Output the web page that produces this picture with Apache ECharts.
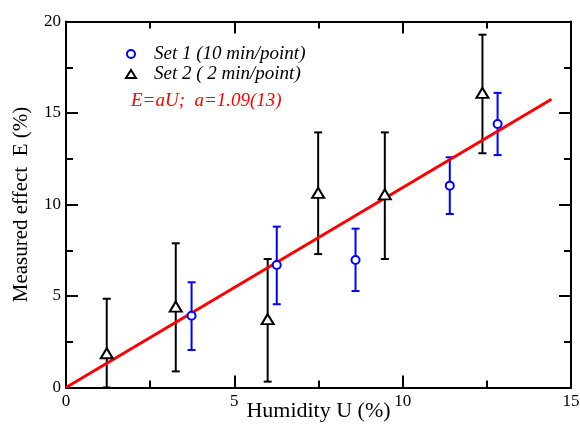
<!DOCTYPE html>
<html>
<head>
<meta charset="utf-8">
<script src="https://cdn.jsdelivr.net/npm/echarts@6/dist/echarts.min.js"></script>
<style>html,body{margin:0;padding:0;background:#fff;}#c{width:580px;height:429px;}</style>
</head>
<body>
<div id="c"></div>
<script>
// Set 1 (10 min/point)
const set1X  = [3.73, 6.26, 8.60, 11.40, 12.82];
const set1Y  = [3.92, 6.69, 6.97, 11.03, 14.40];
const set1Lo = [2.05, 4.55, 5.27, 9.48, 12.70];
const set1Hi = [5.75, 8.79, 8.68, 12.58, 16.10];
// Set 2 ( 2 min/point)
const set2X  = [1.21, 3.26, 5.99, 7.49, 9.47, 12.37];
const set2Y  = [1.87, 4.42, 3.74, 10.64, 10.55, 16.10];
const set2Lo = [0.00, 0.88, 0.32, 7.29, 7.02, 12.80];
const set2Hi = [4.85, 7.88, 7.02, 13.94, 13.94, 19.28];
// Fit line E = aU
const fitX = [0, 14.42];
const fitY = [0, 15.75];
const xTicks = [0, 5, 10, 15];
const yTicks = [0, 5, 10, 15, 20];
const legendNames = ['Set 1 (10 min/point)', 'Set 2 ( 2 min/point)'];
const fitLabel = 'E=aU;  a=1.09(13)';

const serif = '"Liberation Serif", "DejaVu Serif", serif';

function errData(xs, lo, hi) { return xs.map((x, i) => [x, lo[i], hi[i]]); }
function pts(xs, ys) { return xs.map((x, i) => [x, ys[i]]); }

function errRender(color) {
  return function (params, api) {
    const x = api.value(0);
    const lo = api.coord([x, api.value(1)]);
    const hi = api.coord([x, api.value(2)]);
    const w = 4;
    const style = { stroke: color, lineWidth: 2, fill: null };
    return {
      type: 'group',
      children: [
        { type: 'line', shape: { x1: lo[0], y1: lo[1], x2: hi[0], y2: hi[1] }, style },
        { type: 'line', shape: { x1: hi[0] - w, y1: hi[1], x2: hi[0] + w, y2: hi[1] }, style },
        { type: 'line', shape: { x1: lo[0] - w, y1: lo[1], x2: lo[0] + w, y2: lo[1] }, style }
      ]
    };
  };
}

function axisCommon() {
  return {
    min: 0,
    interval: 5,
    axisLine: { onZero: false, lineStyle: { color: '#000', width: 2 } },
    axisTick: { inside: true, length: 12, lineStyle: { color: '#000', width: 2 } },
    minorTick: { show: true, splitNumber: 2, length: 7, lineStyle: { color: '#000', width: 2 } },
    splitLine: { show: false }
  };
}

const chart = echarts.init(document.getElementById('c'));
chart.setOption({
  animation: false,
  backgroundColor: '#fff',
  grid: { left: 66, right: 9, top: 21.5, bottom: 41.5, outerBoundsMode: 'none', containLabel: false },
  xAxis: [
    Object.assign(axisCommon(), {
      type: 'value', max: 15, position: 'bottom',
      axisLabel: { color: '#000', fontFamily: serif, fontSize: 17, margin: 6,
        formatter: v => xTicks.includes(v) ? String(v) : '' },
      name: 'Humidity U (%)', nameLocation: 'middle', nameGap: 13, nameMoveOverlap: false,
      nameTextStyle: { color: '#000', fontFamily: serif, fontSize: 22, verticalAlign: 'top' }
    }),
    Object.assign(axisCommon(), {
      type: 'value', max: 15, position: 'top', axisLabel: { show: false }
    })
  ],
  yAxis: [
    Object.assign(axisCommon(), {
      type: 'value', max: 20, position: 'left',
      axisLabel: { color: '#000', fontFamily: serif, fontSize: 17, margin: 5,
        formatter: v => yTicks.includes(v) ? String(v) : '' },
      name: 'Measured effect  E (%)', nameLocation: 'middle', nameGap: 34, nameMoveOverlap: false,
      nameTextStyle: { color: '#000', fontFamily: serif, fontSize: 21 }
    }),
    Object.assign(axisCommon(), {
      type: 'value', max: 20, position: 'right', axisLabel: { show: false }
    })
  ],
  legend: {
    orient: 'vertical', left: 120, top: 39, itemGap: 0,
    itemWidth: 10, itemHeight: 8,
    textStyle: { color: '#000', fontFamily: serif, fontSize: 19, fontStyle: 'italic', lineHeight: 20, padding: [0, 0, 0, 13] },
    data: legendNames
  },
  graphic: [{
    type: 'text', left: 131, top: 91,
    style: { text: fitLabel, fill: '#ff0000', font: 'italic 19px ' + serif }
  }],
  series: [
    {
      type: 'line', data: pts(fitX, fitY), showSymbol: false, symbol: 'none',
      lineStyle: { color: '#ff0000', width: 3 }, z: 3, silent: true
    },
    {
      type: 'custom', renderItem: errRender('#000000'), data: errData(set2X, set2Lo, set2Hi), z: 2, silent: true
    },
    {
      type: 'custom', renderItem: errRender('#0000ff'), data: errData(set1X, set1Lo, set1Hi), z: 2, silent: true
    },
    {
      name: legendNames[0], type: 'scatter', data: pts(set1X, set1Y),
      symbol: 'circle', symbolSize: 8,
      itemStyle: { color: '#ffffff', borderColor: '#0000ff', borderWidth: 2, opacity: 1 }, z: 4
    },
    {
      name: legendNames[1], type: 'scatter', data: pts(set2X, set2Y),
      symbol: 'triangle', symbolSize: [12, 10],
      itemStyle: { color: '#ffffff', borderColor: '#000000', borderWidth: 2, opacity: 1 }, z: 4
    }
  ]
});
</script>
</body>
</html>
